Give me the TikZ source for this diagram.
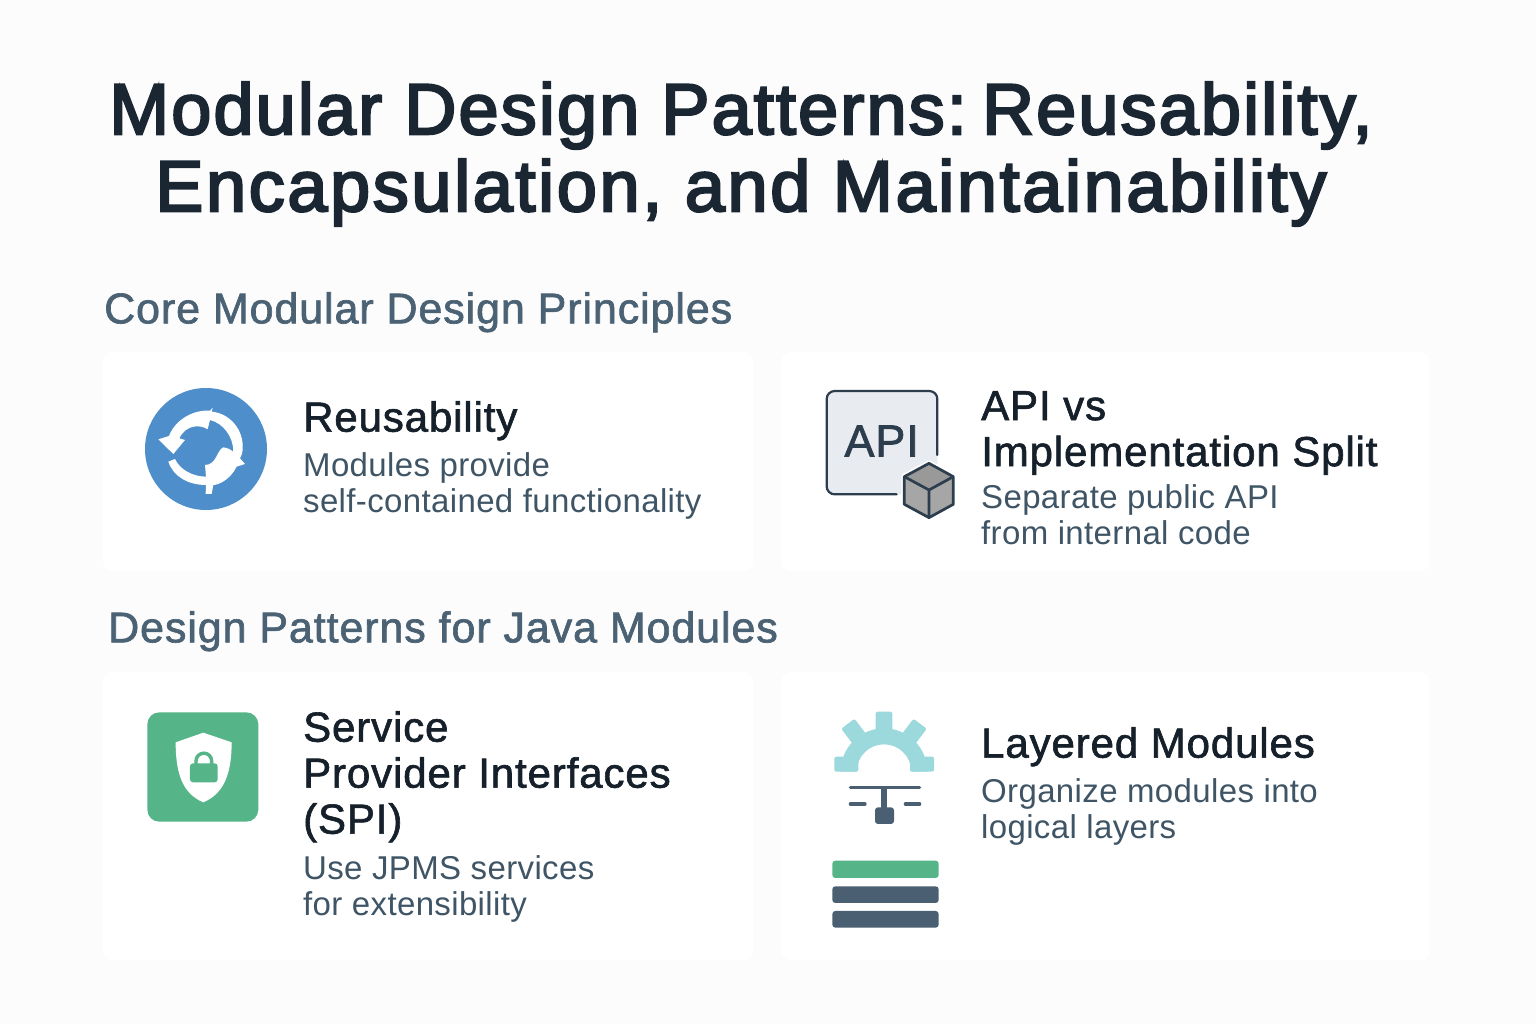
\documentclass[tikz,border=0pt]{standalone}
\usepackage{fontspec}
\setmainfont{Liberation Sans}
\newfontfamily\titlefont[FakeBold=3.2,LetterSpace=3]{Liberation Sans}
\newfontfamily\titlefontwide[FakeBold=3.2,LetterSpace=3.7]{Liberation Sans}
\newfontfamily\headfont[FakeBold=1.5,LetterSpace=2.1]{Liberation Sans}
\newfontfamily\namefont[FakeBold=1.5,LetterSpace=2.1]{Liberation Sans}
\newfontfamily\descfont[LetterSpace=1.1]{Liberation Sans}
\definecolor{pagebg}{HTML}{FCFCFD}
\definecolor{titleink}{HTML}{1A2733}
\definecolor{headink}{HTML}{4A6274}
\definecolor{nameink}{HTML}{16202A}
\definecolor{textink}{HTML}{3F5566}
\definecolor{iconblue}{HTML}{4D8ECB}
\definecolor{icongreen}{HTML}{55B588}
\definecolor{iconteal}{HTML}{9BD9DC}
\definecolor{icondark}{HTML}{2C3E4E}
\definecolor{iconslate}{HTML}{4A6072}
\definecolor{iconpanel}{HTML}{E8EBEF}
\tikzset{
    card/.style={fill=white, rounded corners=10pt, inner sep=0pt, anchor=north west},
    heading/.style={text=headink, inner sep=0pt, anchor=north west, font=\fontsize{43}{48}\headfont},
    cardname/.style={text=nameink, inner sep=0pt, anchor=north west, align=left, font=\fontsize{42}{46}\namefont},
    carddesc/.style={text=textink, inner sep=0pt, anchor=north west, align=left, font=\fontsize{33}{36}\descfont},
}
\begin{document}
\begin{tikzpicture}[x=1pt, y=-1pt]
    \useasboundingbox (0,0) rectangle (1536,1024);
    \fill[pagebg] (0,0) rectangle (1536,1024);

    \node[text=titleink, inner sep=0pt, align=center, font=\fontsize{72}{77}\titlefont] (title) at (741,154)
        {Modular Design Patterns:\hspace{-0.2em} Reusability,\\{\titlefontwide Encapsulation, and Maintainability}};

    \node[heading] (coreHead) at (104,292) {Core Modular Design Principles};
    \node[heading] (javaHead) at (108,611) {Design Patterns for Java Modules};

    % cards
    \node[card, minimum width=650pt, minimum height=219pt] (reuseCard) at (103,352) {};
    \node[card, minimum width=649pt, minimum height=219pt] (apiCard) at (781,352) {};
    \node[card, minimum width=650pt, minimum height=288pt] (spiCard) at (103,672) {};
    \node[card, minimum width=649pt, minimum height=288pt] (layerCard) at (781,672) {};

    \node[cardname] (reuseName) at (303,401) {Reusability};
    \node[carddesc] (reuseDesc) at (303,452) {Modules provide\\self-contained functionality};

    \node[cardname] (apiName) at (981,391) {API vs\\Implementation Split};
    \node[carddesc] (apiDesc) at (981,484) {Separate public API\\from internal code};

    \node[cardname] (spiName) at (303,711) {Service\\Provider Interfaces\\(SPI)};
    \node[carddesc] (spiDesc) at (303,855) {Use JPMS services\\for extensibility};

    \node[cardname] (layerName) at (981,727) {Layered Modules};
    \node[carddesc] (layerDesc) at (981,778) {Organize modules into\\logical layers};

    % reuse icon, in zoomed px
    \fill[iconblue] (206,449) circle (61);
    \begin{scope}[shift={(120,370)}, x=0.3333pt, y=-0.3333pt]
        \fill[white] (115,208) -- (147,198) .. controls (165,150) and (220,118) .. (270,122) -- (278,113)
            -- (275,125) .. controls (330,130) and (372,180) .. (368,237) .. controls (367,250) .. (360,265)
            -- (375,282) -- (350,290) .. controls (330,330) and (295,345) .. (280,345) -- (275,372) -- (257,372)
            -- (258,345) .. controls (205,345) and (160,320) .. (145,275) -- (165,267)
            .. controls (180,300) and (220,320) .. (258,320) -- (255,285)
            .. controls (290,285) and (290,240) .. (310,232) .. controls (325,235) .. (340,245)
            .. controls (340,200) and (310,160) .. (270,150) -- (263,178)
            .. controls (245,165) and (200,160) .. (178,205) -- (195,210) -- (160,252) -- cycle;
    \end{scope}

    % api icon
    \begin{scope}[shift={(810,375)}, x=0.3333pt, y=-0.3333pt]
        \fill[iconpanel, rounded corners=8pt] (50,48) rectangle (382,358);
        \draw[icondark, line width=2.2pt, rounded corners=8pt, line cap=round] (382,240) -- (382,48) -- (50,48) -- (50,358) -- (260,358);
        \node[text=icondark, inner sep=0pt, font=\fontsize{45}{45}\headfont] (apiText) at (215,198) {API};
        \draw[white, line width=6pt, fill=white, line join=round] (357,265) -- (430,305) -- (430,388) -- (357,428) -- (283,388) -- (283,305) -- cycle;
        \fill[gray!80] (357,265) -- (430,305) -- (357,345) -- (283,305) -- cycle;
        \fill[gray!70] (283,305) -- (357,345) -- (357,428) -- (283,388) -- cycle;
        \fill[gray!70] (430,305) -- (357,345) -- (357,428) -- (430,388) -- cycle;
        \draw[icondark, line width=2.7pt, line join=round] (357,265) -- (430,305) -- (430,388) -- (357,428) -- (283,388) -- (283,305) -- cycle;
        \draw[icondark, line width=2.7pt, line join=round] (283,305) -- (357,345) -- (430,305) (357,345) -- (357,428);
    \end{scope}

    % shield icon
    \begin{scope}[shift={(130,695)}, x=0.3333pt, y=-0.3333pt]
        \fill[icongreen, rounded corners=12pt] (52,52) rectangle (385,380);
        \fill[white] (220,113) -- (305,142) .. controls (305,230) and (285,295) .. (220,322)
            .. controls (155,295) and (137,230) .. (137,142) -- cycle;
        \draw[icongreen, line width=3.4pt] (198,210) -- (198,198) arc (180:360:23.5) -- (245,210);
        \fill[icongreen, rounded corners=3pt] (180,205) rectangle (263,262);
    \end{scope}

    % layer icon
    \begin{scope}[shift={(815,700)}, x=0.3333pt, y=-0.3333pt]
        \fill[iconteal] (77,215) arc (180:360:130) -- (289,215) arc (360:180:82) -- cycle;
        \fill[iconteal, rounded corners=2pt] (58,170) rectangle (130,215);
        \fill[iconteal, rounded corners=2pt] (285,170) rectangle (357,215);
        \foreach \a in {53, 90, 127} {
            \begin{scope}[shift={(207,215)}, rotate=\a]
                \fill[iconteal, rounded corners=2pt] (110,-25) rectangle (180,25);
            \end{scope}
        }
        \draw[iconslate, line width=3.2pt, line cap=round] (106,263) -- (314,263);
        \draw[iconslate, line width=3.2pt, line cap=round] (106,312) -- (150,312);
        \draw[iconslate, line width=3.2pt, line cap=round] (271,312) -- (314,312);
        \draw[iconslate, line width=6pt] (208,263) -- (208,330);
        \fill[iconslate, rounded corners=3pt] (180,322) rectangle (237,372);
        \fill[icongreen, rounded corners=3pt] (52,482) rectangle (371,534);
        \foreach \y in {559, 633} {
            \fill[iconslate, rounded corners=3pt] (52,\y) rectangle (371,\y+50);
        }
    \end{scope}
\end{tikzpicture}
\end{document}
